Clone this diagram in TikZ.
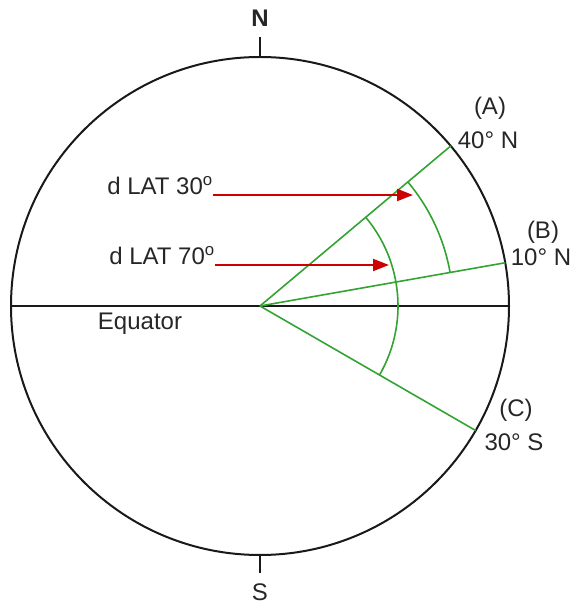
\documentclass[tikz,border=0pt]{standalone}
\usepackage{fontspec}
\setmainfont{Liberation Sans}
\usetikzlibrary{arrows.meta, calc}

\begin{document}
\begin{tikzpicture}[
  x=1pt, y=1pt,
  lbl/.style={font=\fontsize{24}{26}\selectfont, inner sep=0pt, text=black!85},
  earth/.style={line width=2pt, black!90},
  merid/.style={line width=1.6pt, green!55!black!80},
  dlat/.style={line width=2pt, red!80!black, -{Triangle[length=16pt, width=12pt]}}
]
\useasboundingbox (0,0) rectangle (576,606);

% Earth and equator
\coordinate (O) at (260,300);
\draw[earth] (O) circle (249);
\coordinate (W) at ($(O)+(180:249)$);
\coordinate (E) at ($(O)+(0:249)$);
\draw[earth] (W) -- (E);
\node[lbl, anchor=base] (eq) at (140,276) {Equator};

% Poles
\coordinate (Ntop) at ($(O)+(90:249)$);
\coordinate (Sbot) at ($(O)+(-90:249)$);
\node[lbl, font=\fontsize{24}{26}\selectfont\bfseries] (N) at (260,588) {N};
\node[lbl] (S) at (260,14) {S};
\draw[earth] (Ntop) -- (N.south |- 0,569);
\draw[earth] (Sbot) -- (S.north |- 0,33);

% Places
\coordinate (A) at ($(O)+(40:249)$);
\coordinate (B) at ($(O)+(10:249)$);
\coordinate (C) at ($(O)+(-30:249)$);
\draw[merid] (O) -- (A);
\draw[merid] (O) -- (B);
\draw[merid] (O) -- (C);
\node[lbl] (Alab) at (490,498) {(A)};
\node[lbl] (Alat) at (488,466) {40° N};
\node[lbl] (Blab) at (543,374) {(B)};
\node[lbl] (Blat) at (541,349) {10° N};
\node[lbl] (Clab) at (516,196) {(C)};
\node[lbl] (Clat) at (514,164) {30° S};

% Arcs of difference of latitude
\draw[merid] ($(O)+(10:193)$) arc[start angle=10, end angle=40, radius=193];
\draw[merid] ($(O)+(-30:138)$) arc[start angle=-30, end angle=40, radius=138];

% Labels and arrows
\node[lbl, anchor=base east] (d30) at (213,411) {d LAT 30\textsuperscript{o}};
\node[lbl, anchor=base east] (d70) at (215,341) {d LAT 70\textsuperscript{o}};
\coordinate (t30) at (413,411);
\coordinate (t70) at (389,341);
\draw[dlat] (d30.base east) -- (t30);
\draw[dlat] (d70.base east) -- (t70);

\end{tikzpicture}
\end{document}
